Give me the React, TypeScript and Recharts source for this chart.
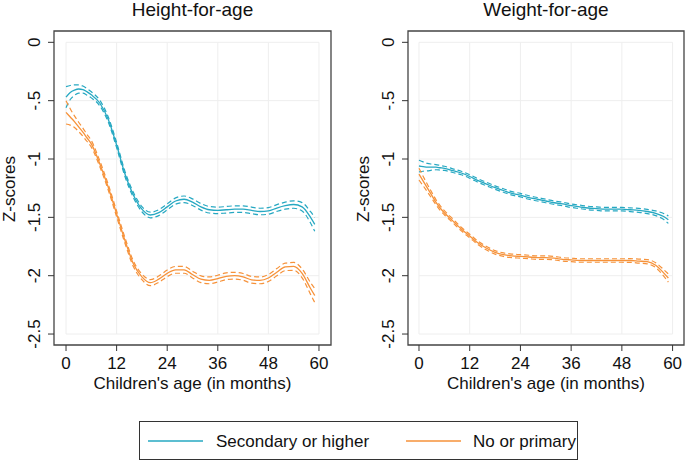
import { LineChart, Line, XAxis, YAxis, ReferenceLine, ReferenceArea } from 'recharts';

// months of age at which the fitted curves were read
const ages = [0, 1, 2, 3, 4, 5, 6, 8, 10, 12, 14, 16, 18, 20, 22, 24, 26, 28, 30, 32, 34, 36, 38, 40, 42, 44, 46, 48, 50, 52, 54, 56, 58, 59];

// Height-for-age z-scores by maternal education
const hfaSecondary = [-0.47, -0.43, -0.41, -0.4, -0.405, -0.425, -0.45, -0.52, -0.66, -0.88, -1.13, -1.31, -1.43, -1.48, -1.46, -1.41, -1.36, -1.345, -1.37, -1.41, -1.435, -1.44, -1.435, -1.43, -1.43, -1.44, -1.45, -1.445, -1.42, -1.4, -1.39, -1.41, -1.5, -1.56];
const hfaSecondaryCI = [0.09, 0.06, 0.045, 0.035, 0.03, 0.028, 0.026, 0.024, 0.022, 0.022, 0.022, 0.022, 0.022, 0.024, 0.025, 0.026, 0.027, 0.028, 0.028, 0.028, 0.028, 0.028, 0.028, 0.028, 0.028, 0.028, 0.028, 0.028, 0.029, 0.03, 0.032, 0.036, 0.048, 0.06];
const hfaPrimary = [-0.6, -0.64, -0.68, -0.725, -0.77, -0.82, -0.87, -1.04, -1.24, -1.47, -1.7, -1.9, -2.01, -2.06, -2.03, -1.98, -1.95, -1.95, -1.99, -2.03, -2.04, -2.025, -2.005, -2.0, -2.01, -2.035, -2.04, -2.02, -1.97, -1.925, -1.92, -1.98, -2.11, -2.17];
const hfaPrimaryCI = [0.1, 0.07, 0.05, 0.04, 0.035, 0.03, 0.028, 0.025, 0.024, 0.024, 0.024, 0.024, 0.024, 0.026, 0.027, 0.028, 0.029, 0.029, 0.029, 0.029, 0.029, 0.029, 0.029, 0.029, 0.029, 0.029, 0.029, 0.03, 0.031, 0.032, 0.034, 0.038, 0.05, 0.06];

// Weight-for-age z-scores by maternal education
const wfaSecondary = [-1.06, -1.065, -1.07, -1.07, -1.07, -1.075, -1.08, -1.1, -1.12, -1.15, -1.185, -1.215, -1.245, -1.27, -1.295, -1.31, -1.33, -1.345, -1.36, -1.375, -1.385, -1.4, -1.41, -1.42, -1.425, -1.43, -1.43, -1.43, -1.435, -1.44, -1.45, -1.465, -1.495, -1.52];
const wfaSecondaryCI = [0.05, 0.04, 0.032, 0.026, 0.022, 0.02, 0.018, 0.016, 0.015, 0.015, 0.015, 0.015, 0.015, 0.015, 0.015, 0.015, 0.015, 0.015, 0.015, 0.015, 0.015, 0.015, 0.015, 0.015, 0.015, 0.015, 0.015, 0.015, 0.016, 0.017, 0.018, 0.02, 0.026, 0.032];
const wfaPrimary = [-1.13, -1.19, -1.25, -1.31, -1.37, -1.42, -1.46, -1.53, -1.6, -1.66, -1.72, -1.765, -1.8, -1.82, -1.83, -1.835, -1.84, -1.845, -1.845, -1.85, -1.86, -1.865, -1.87, -1.87, -1.87, -1.87, -1.87, -1.87, -1.87, -1.875, -1.88, -1.91, -1.98, -2.02];
const wfaPrimaryCI = [0.05, 0.04, 0.032, 0.026, 0.022, 0.02, 0.018, 0.016, 0.015, 0.015, 0.015, 0.015, 0.015, 0.015, 0.015, 0.015, 0.015, 0.015, 0.015, 0.015, 0.015, 0.015, 0.015, 0.015, 0.015, 0.015, 0.015, 0.015, 0.016, 0.017, 0.018, 0.021, 0.028, 0.035];

const xTicks = [0, 12, 24, 36, 48, 60];
const yTicks = [0, -0.5, -1, -1.5, -2, -2.5];
const yTickLabels = ['0', '-.5', '-1', '-1.5', '-2', '-2.5'];

const TEAL = '#26A8C2';
const ORANGE = '#F6923A';
const FONT = '"Liberation Sans", Arial, sans-serif';

const buildRows = (sec: number[], secCI: number[], pri: number[], priCI: number[]) =>
  ages.map((age, i) => ({
    age,
    sec: sec[i],
    secHi: sec[i] + secCI[i],
    secLo: sec[i] - secCI[i],
    pri: pri[i],
    priHi: pri[i] + priCI[i],
    priLo: pri[i] - priCI[i],
  }));

const YTick = (props: any) => {
  const { x, y, payload } = props;
  const idx = yTicks.indexOf(payload.value);
  const label = idx >= 0 ? yTickLabels[idx] : String(payload.value);
  return (
    <text
      x={x - 6}
      y={y}
      transform={`rotate(-90, ${x - 6}, ${y})`}
      textAnchor="middle"
      fontSize={17}
      fill="#111"
    >
      {label}
    </text>
  );
};

interface PanelProps {
  left: number;
  width: number;
  yAxisWidth: number;
  rightMargin: number;
  xDomain: [number, number];
  rows: any[];
}

const Y_DOMAIN: [number, number] = [-2.594, 0.097];

function Panel({ left, width, yAxisWidth, rightMargin, xDomain, rows }: PanelProps) {
  return (
    <div style={{ position: 'absolute', left, top: 0 }}>
      <LineChart
        width={width}
        height={400}
        data={rows}
        margin={{ top: 31, right: rightMargin, bottom: 0, left: 0 }}
      >
        <XAxis
          type="number"
          dataKey="age"
          domain={xDomain}
          allowDataOverflow
          ticks={xTicks}
          height={55}
          axisLine={false}
          tickSize={6}
          tickMargin={6}
          tickLine={{ stroke: '#333' }}
          tick={{ fill: '#111', fontSize: 17 }}
        />
        <YAxis
          type="number"
          domain={Y_DOMAIN}
          allowDataOverflow
          ticks={yTicks}
          width={yAxisWidth}
          axisLine={false}
          tickSize={6}
          tickLine={{ stroke: '#333' }}
          tick={<YTick />}
        />
        {yTicks.map((v) => (
          <ReferenceLine
            key={`h${v}`}
            segment={[{ x: 0, y: v }, { x: 60, y: v }]}
            stroke="#EEEEEE"
            strokeWidth={1}
          />
        ))}
        {xTicks.map((v) => (
          <ReferenceLine
            key={`v${v}`}
            segment={[{ x: v, y: 0 }, { x: v, y: -2.5 }]}
            stroke="#EEEEEE"
            strokeWidth={1}
          />
        ))}
        <ReferenceArea
          x1={xDomain[0]}
          x2={xDomain[1]}
          y1={Y_DOMAIN[0]}
          y2={Y_DOMAIN[1]}
          fill="none"
          fillOpacity={0}
          stroke="#444"
          strokeWidth={1.3}
        />
        <Line type="monotone" dataKey="secHi" stroke={TEAL} strokeWidth={1.2} strokeDasharray="5 3" dot={false} activeDot={false} isAnimationActive={false} />
        <Line type="monotone" dataKey="secLo" stroke={TEAL} strokeWidth={1.2} strokeDasharray="5 3" dot={false} activeDot={false} isAnimationActive={false} />
        <Line type="monotone" dataKey="sec" stroke={TEAL} strokeWidth={1.3} dot={false} activeDot={false} isAnimationActive={false} />
        <Line type="monotone" dataKey="priHi" stroke={ORANGE} strokeWidth={1.2} strokeDasharray="5 3" dot={false} activeDot={false} isAnimationActive={false} />
        <Line type="monotone" dataKey="priLo" stroke={ORANGE} strokeWidth={1.2} strokeDasharray="5 3" dot={false} activeDot={false} isAnimationActive={false} />
        <Line type="monotone" dataKey="pri" stroke={ORANGE} strokeWidth={1.3} dot={false} activeDot={false} isAnimationActive={false} />
      </LineChart>
    </div>
  );
}

export default function App() {
  const hfaRows = buildRows(hfaSecondary, hfaSecondaryCI, hfaPrimary, hfaPrimaryCI);
  const wfaRows = buildRows(wfaSecondary, wfaSecondaryCI, wfaPrimary, wfaPrimaryCI);

  return (
    <div
      style={{
        position: 'absolute',
        left: 0,
        top: 0,
        width: 685,
        height: 462,
        background: '#fff',
        fontFamily: FONT,
        overflow: 'hidden',
      }}
    >
      <Panel left={0} width={340} yAxisWidth={54} rightMargin={9} xDomain={[-2.85, 62.85]} rows={hfaRows} />
      <Panel left={340} width={345} yAxisWidth={68} rightMargin={1} xDomain={[-2.6, 62.7]} rows={wfaRows} />
      <svg
        width={685}
        height={462}
        style={{ position: 'absolute', left: 0, top: 0, pointerEvents: 'none' }}
        fontFamily={FONT}
      >
        <text x={192.5} y={15.5} textAnchor="middle" fontSize={19} fill="#111">Height-for-age</text>
        <text x={546} y={15.5} textAnchor="middle" fontSize={19} fill="#111">Weight-for-age</text>
        <text x={14.5} y={189} transform="rotate(-90, 14.5, 189)" textAnchor="middle" fontSize={17} fill="#111">Z-scores</text>
        <text x={368.5} y={189} transform="rotate(-90, 368.5, 189)" textAnchor="middle" fontSize={17} fill="#111">Z-scores</text>
        <text x={192.5} y={389} textAnchor="middle" fontSize={17} fill="#111">Children's age (in months)</text>
        <text x={546} y={389} textAnchor="middle" fontSize={17} fill="#111">Children's age (in months)</text>
        <rect x={139.5} y={421.5} width={438} height={38} fill="none" stroke="#333" strokeWidth={1} />
        <line x1={148} y1={441} x2={203} y2={441} stroke={TEAL} strokeWidth={1.6} />
        <text x={216} y={447} fontSize={17} fill="#111">Secondary or higher</text>
        <line x1={406} y1={441} x2={461} y2={441} stroke={ORANGE} strokeWidth={1.6} />
        <text x={473} y={447} fontSize={17} fill="#111">No or primary</text>
      </svg>
    </div>
  );
}
